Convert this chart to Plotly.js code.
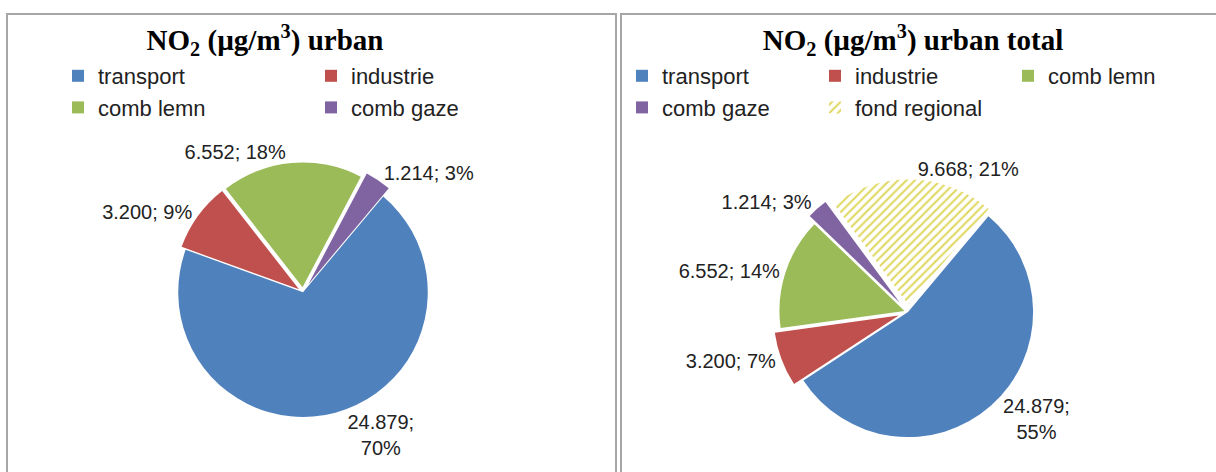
<!DOCTYPE html>
<html><head><meta charset="utf-8">
<script src="https://cdn.plot.ly/plotly-3.0.1.min.js"></script>
<style>
html,body{margin:0;padding:0;background:#fff;overflow:hidden;width:1216px;height:472px;}
.panel{position:absolute;top:13px;height:470px;border:2px solid #a6a6a6;border-bottom:none;box-sizing:border-box;background:#fff;}
#p1{left:6px;width:611px;}
#p2{left:620px;width:604px;}
</style></head><body>
<div id="p1" class="panel"><div id="c1"></div></div>
<div id="p2" class="panel"><div id="c2"></div></div>
<script>
// ---- data ----
const categoriesUrban = ['transport', 'industrie', 'comb lemn', 'comb gaze'];
const valuesUrban = [24.879, 3.200, 6.552, 1.214];
const percentUrban = [70, 9, 18, 3];

const categoriesTotal = ['transport', 'industrie', 'comb lemn', 'comb gaze', 'fond regional'];
const valuesTotal = [24.879, 3.200, 6.552, 1.214, 9.668];
const percentTotal = [55, 7, 14, 3, 21];

const titleUrban = 'NO<sub>2</sub> (µg/m<sup>3</sup>) urban';
const titleTotal = 'NO<sub>2</sub> (µg/m<sup>3</sup>) urban total';

// ---- styles ----
const colorOf = {
  'transport': '#4F81BD',
  'industrie': '#C0504D',
  'comb lemn': '#9BBB59',
  'comb gaze': '#8064A2',
  'fond regional': '#FFFFC8'
};
const labelFont = {family: 'Liberation Sans, Arial, sans-serif', size: 20, color: '#222'};
const legendFont = {family: 'Liberation Sans, Arial, sans-serif', size: 22, color: '#222'};
const titleFont = {family: 'Liberation Serif, Times New Roman, serif', size: 29, color: '#000', weight: 'bold'};

function makePie(cats, vals, pcts, domain, pull, rotation) {
  return {
    type: 'pie',
    labels: cats,
    values: vals,
    customdata: pcts,
    sort: false,
    direction: 'clockwise',
    rotation: rotation,
    pull: pull,
    domain: domain,
    textposition: 'outside',
    texttemplate: cats.map(c => c === 'transport' ? '%{value:.3f};<br>%{customdata}%' : '%{value:.3f}; %{customdata}%'),
    outsidetextfont: labelFont,
    automargin: false,
    hoverinfo: 'label+value+percent',
    marker: {
      colors: cats.map(c => colorOf[c]),
      line: {width: 0},
      pattern: {
        shape: cats.map(c => c === 'fond regional' ? '/' : ''),
        fgcolor: cats.map(c => c === 'fond regional' ? '#E0D860' : colorOf[c]),
        size: 6,
        solidity: 0.35
      }
    }
  };
}

function makeLayout(w, h, title, titleX, legendX, entryW) {
  return {
    width: w, height: h,
    margin: {l: 0, r: 0, t: 0, b: 0},
    paper_bgcolor: '#fff',
    showlegend: true,
    title: {text: title, font: titleFont, x: titleX, xanchor: 'center', xref: 'paper', y: 1 - 25 / h, yref: 'container', yanchor: 'middle'},
    legend: {
      orientation: 'h', x: legendX, xanchor: 'left', y: 1 - 40 / h, yanchor: 'top',
      font: legendFont, entrywidth: entryW, entrywidthmode: 'pixels', traceorder: 'normal',
      bgcolor: 'rgba(0,0,0,0)'
    }
  };
}

const W1 = 607, W2 = 600, H = 457;
Plotly.newPlot('c1',
  [makePie(categoriesUrban, valuesUrban, percentUrban,
    {x: [0.264, 0.708], y: [0.098, 0.689]}, [0, 0.04, 0.04, 0.08], 40)],
  makeLayout(W1, H, titleUrban, 257 / W1, 50 / W1, 208),
  {displayModeBar: false, staticPlot: true});

Plotly.newPlot('c2',
  [makePie(categoriesTotal, valuesTotal, percentTotal,
    {x: [0.2475, 0.706], y: [0.049, 0.651]}, [0, 0.08, 0.03, 0.1, 0.06], 40)],
  makeLayout(W2, H, titleTotal, 291 / W2, 0, 148),
  {displayModeBar: false, staticPlot: true});
</script>
</body></html>
